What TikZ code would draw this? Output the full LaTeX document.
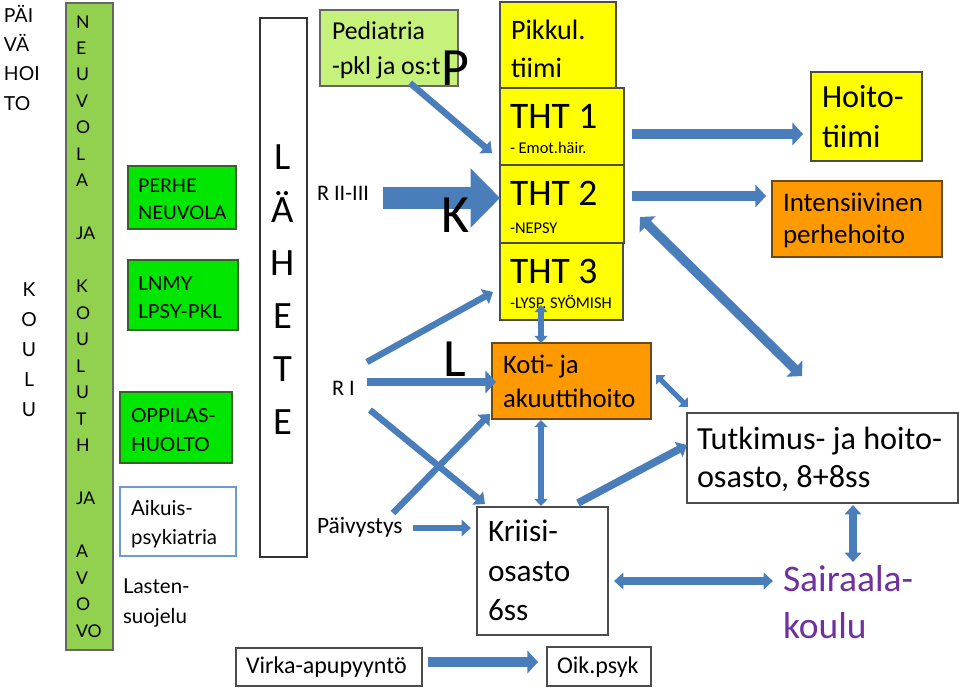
\documentclass[tikz,border=0pt]{standalone}
\usepackage{fontspec}
\setmainfont{Carlito}
\newfontfamily\lato{Lato}
\usetikzlibrary{arrows.meta,fit}
\definecolor{abl}{HTML}{4A7EBB}
\definecolor{barg}{HTML}{92D050}
\definecolor{brg}{HTML}{00E600}
\definecolor{gbd}{HTML}{3A5F2A}
\definecolor{lbl}{HTML}{6C9BD2}
\definecolor{pedg}{HTML}{C6F27C}
\definecolor{yel}{HTML}{FFFF00}
\definecolor{ora}{HTML}{FF9900}
\definecolor{orb}{HTML}{6B4A10}
\definecolor{purp}{HTML}{7030A0}
\newcommand\fs[2]{\fontsize{#1}{#2}\selectfont}
\begin{document}
\begin{tikzpicture}[x=0.03cm,y=-0.03cm,
  every node/.style={inner sep=0pt,outer sep=0pt},
  bx/.style={draw=#1,line width=0.9pt,inner sep=0pt},
  tx/.style={anchor=base west,align=left},
  aThin/.style={draw=abl,line width=5.5pt,-{Triangle[length=8pt,width=14pt]}},
  aMid/.style={draw=abl,line width=9pt,-{Triangle[length=9pt,width=19pt]}},
  aMidD/.style={draw=abl,line width=8pt,{Triangle[length=9pt,width=19pt]}-{Triangle[length=9pt,width=19pt]}},
  aBig/.style={draw=abl,line width=18pt,-{Triangle[length=25pt,width=49pt]}},
  aSmD/.style={draw=abl,line width=4.5pt,{Triangle[length=6pt,width=11pt]}-{Triangle[length=6pt,width=11pt]}},
  aMedD/.style={draw=abl,line width=6.5pt,{Triangle[length=8pt,width=14pt]}-{Triangle[length=8pt,width=14pt]}},
]
\useasboundingbox (0,0) rectangle (959,689);
\fill[white] (0,0) rectangle (959,689);

% boxes
\node[bx=black!60,fill=barg,fit={(66,3)(113,650)}] (bar) {};
\node[bx=gbd,fill=brg,fit={(128,166)(236,229)}] (perhe) {};
\node[bx=gbd,fill=brg,fit={(128,260)(238,330)}] (lnmy) {};
\node[bx=gbd,fill=brg,fit={(120,392)(232,463)}] (oppi) {};
\node[bx=lbl,fill=white,fit={(120,487)(236,556)}] (aik) {};
\node[bx=black!80,fit={(260,18)(307,557)}] (lahete) {};
\node[bx=black!60,fill=pedg,fit={(320,10)(458,86)}] (ped) {};
\node[bx=black!70,fill=yel,fit={(500,2)(616,92)}] (pik) {};
\node[bx=black!70,fill=yel,fit={(500,88)(624,165)}] (tht1) {};
\node[bx=black!70,fill=yel,fit={(500,165)(624,243)}] (tht2) {};
\node[bx=black!70,fill=yel,fit={(500,243)(623,320)}] (tht3) {};
\node[bx=orb,fill=ora,fit={(492,343)(651,419)}] (koti) {};
\node[bx=black!70,fill=white,fit={(477,507)(608,635)}] (kriisi) {};
\node[bx=black!70,fill=white,fit={(547,647)(651,686)}] (oik) {};
\node[bx=black!70,fill=white,fit={(236,648)(422,686)}] (virka) {};
\node[bx=black!70,fill=yel,fit={(811,72)(922,161)}] (hoito) {};
\node[bx=orb,fill=ora,fit={(772,181)(942,257)}] (intens) {};
\node[bx=black!70,fill=white,fit={(687,413)(958,503)}] (tutk) {};

% left texts (multi-line nodes: base = last line)
\node[tx,font={\lato\fs{16.5}{24.8}}] (paiva) at (4,110) {PÄI\\VÄ\\HOI\\TO};
\node[anchor=base,align=center,font={\lato\fs{16.5}{25.6}}] (koulu) at (29,416) {K\\O\\U\\L\\U};
\node[tx,font={\lato\fs{15}{22.6}}] (bartxt) at (76,637) {N\\E\\U\\V\\O\\L\\A\\~\\JA\\~\\K\\O\\U\\L\\U\\T\\H\\~\\JA\\~\\A\\V\\O\\VO};
\node[tx,font={\lato\fs{16}{22.6}}] (perhet) at (138,219) {PERHE\\NEUVOLA};
\node[tx,font={\lato\fs{16.5}{24.4}}] (lnmyt) at (138,318.6) {LNMY\\LPSY-PKL};
\node[tx,font={\lato\fs{16.5}{24.3}}] (oppit) at (131,451) {OPPILAS-\\HUOLTO};
\node[tx,font={\lato\fs{17.5}{24.3}}] (aikt) at (131,544) {Aikuis-\\psykiatria};
\node[tx,font={\lato\fs{17.5}{24.8}}] (lasten) at (123,623) {Lasten-\\suojelu};
\node[anchor=base,align=center,font={\fs{33}{45.1}}] (lahtxt) at (283,434) {L\\Ä\\H\\E\\T\\E};

% middle texts
\node[tx,font={\fs{22}{29.6}}] (pedt) at (332,74) {Pediatria\\-pkl ja os:t};
\node[tx,font={\fs{24}{32.4}}] (pikt) at (511,77) {Pikkul.\\tiimi};
\node[tx,font={\fs{32}{38}}] (tht1t) at (510,128) {THT 1};
\node[tx,font={\fs{14}{16}}] (tht1s) at (510,153) {- Emot.häir.};
\node[tx,font={\fs{32}{38}}] (tht2t) at (510,205) {THT 2};
\node[tx,font={\fs{14}{16}}] (tht2s) at (510,233) {-NEPSY};
\node[tx,font={\fs{32}{38}}] (tht3t) at (510,283) {THT 3};
\node[tx,font={\fs{14}{16}}] (tht3s) at (510,308) {-LYSP. SYÖMISH};
\node[tx,font={\fs{22.8}{29}}] (kotit) at (503,407.3) {Koti- ja\\akuuttihoito};
\node[tx,font={\fs{26.7}{33.3}}] (kriisit) at (488,620) {Kriisi-\\osasto\\6ss};
\node[tx,font={\fs{20.5}{24}}] (oikt) at (557,673) {Oik.psyk};
\node[tx,font={\fs{20.5}{24}}] (virkat) at (246,673) {Virka-apupyyntö};
\node[tx,font={\fs{19}{23}}] (r23) at (317,200) {R II-III};
\node[tx,font={\fs{19}{23}}] (r1) at (332,395) {R I};
\node[tx,font={\fs{20}{24}}] (paiv) at (317,533) {Päivystys};
\node[tx,font={\fs{27.5}{33.3}}] (hoitot) at (822,147) {Hoito-\\tiimi};
\node[tx,font={\fs{23}{26.5}}] (intenst) at (783,243) {Intensiivinen\\perhehoito};
\node[tx,font={\fs{27.5}{32.4}}] (tutkt) at (697,487) {Tutkimus- ja hoito-\\osasto, 8+8ss};
\node[tx,font={\fs{32}{39.3}},text=purp] (sair) at (783,638) {Sairaala-\\koulu};

% connector end points
\coordinate (a1s) at (410,83);  \coordinate (a1e) at (492,153);
\coordinate (a2s) at (383,198); \coordinate (a2e) at (500,198);
\coordinate (a3s) at (632,134); \coordinate (a3e) at (803,134);
\coordinate (a4s) at (632,196); \coordinate (a4e) at (766,196);
\coordinate (a5s) at (640,217); \coordinate (a5e) at (802,376);
\coordinate (a6s) at (367,362); \coordinate (a6e) at (493,292);
\coordinate (a7s) at (367,382); \coordinate (a7e) at (496,382);
\coordinate (a8s) at (370,410); \coordinate (a8e) at (485,504);
\coordinate (a9s) at (393,513); \coordinate (a9e) at (490,414);
\coordinate (a10s) at (413,528); \coordinate (a10e) at (471,528);
\coordinate (a11s) at (541,305); \coordinate (a11e) at (541,343);
\coordinate (a12s) at (541,420); \coordinate (a12e) at (541,506);
\coordinate (a13s) at (578,503); \coordinate (a13e) at (687,445);
\coordinate (a14s) at (656,375); \coordinate (a14e) at (688,407);
\coordinate (a15s) at (614,581); \coordinate (a15e) at (773,581);
\coordinate (a16s) at (853,505); \coordinate (a16e) at (853,562);
\coordinate (a17s) at (428,662); \coordinate (a17e) at (538,662);

% connectors
\draw[aThin] (a1s) -- (a1e);
\draw[aBig] (a2s) -- (a2e);
\draw[aMid] (a3s) -- (a3e);
\draw[aMid] (a4s) -- (a4e);
\draw[aMidD] (a5s) -- (a5e);
\draw[aThin] (a6s) -- (a6e);
\draw[aMid,line width=7.5pt] (a7s) -- (a7e);
\draw[aThin] (a8s) -- (a8e);
\draw[aThin] (a9s) -- (a9e);
\draw[aThin] (a10s) -- (a10e);
\draw[aSmD] (a11s) -- (a11e);
\draw[aSmD] (a12s) -- (a12e);
\draw[aThin,line width=6.5pt] (a13s) -- (a13e);
\draw[aSmD] (a14s) -- (a14e);
\draw[aMedD] (a15s) -- (a15e);
\draw[aMedD] (a16s) -- (a16e);
\draw[aMid] (a17s) -- (a17e);

% big letters
\node[tx,font={\fs{46}{50}}] (bigP) at (441,85) {P};
\node[tx,font={\fs{46}{50}}] (bigK) at (441,232) {K};
\node[tx,font={\fs{46}{50}}] (bigL) at (443,376) {L};
\end{tikzpicture}
\end{document}
